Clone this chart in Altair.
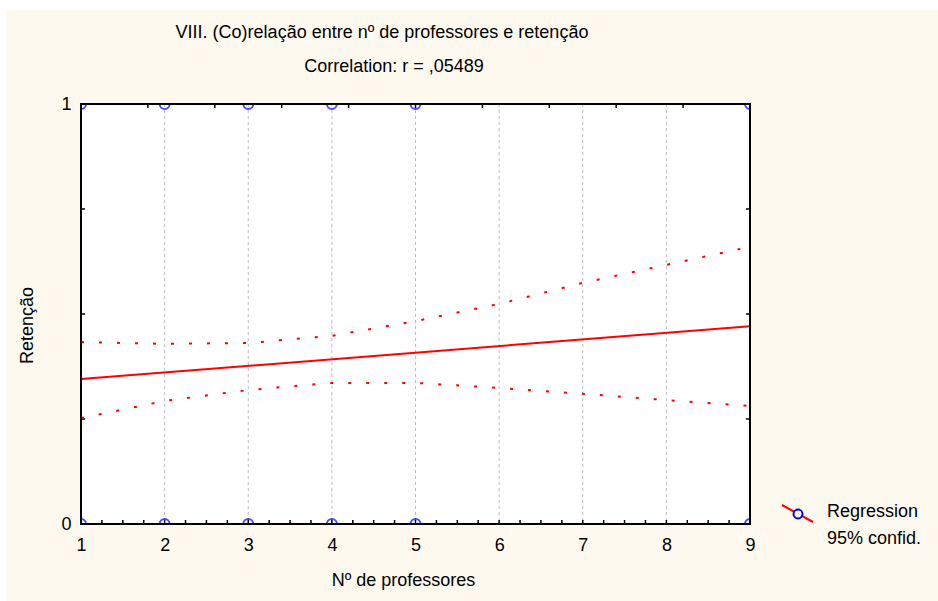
import altair as alt
import pandas as pd

# ---- data ----
pt_x = [1, 2, 3, 4, 5, 9, 1, 2, 3, 4, 5, 9]
pt_y = [1, 1, 1, 1, 1, 1, 0, 0, 0, 0, 0, 0]

reg_x = [1, 9]
reg_y = [0.345, 0.471]

ci_x = [1, 2, 3, 4, 5, 6, 7, 8, 9]
ci_upper = [0.433, 0.429, 0.431, 0.448, 0.483, 0.524, 0.574, 0.617, 0.660]
ci_lower = [0.252, 0.293, 0.319, 0.336, 0.336, 0.324, 0.310, 0.295, 0.281]

x_labels = [1, 2, 3, 4, 5, 6, 7, 8, 9]
x_grid = [2, 3, 4, 5, 6, 7, 8]
y_labels = [0, 1]
x_minor = [1 + 0.25 * i for i in range(1, 32)]
x_top = [1 + 0.8 * i for i in range(1, 10)]
y_minor = [0.25, 0.5, 0.75]

title1 = "VIII. (Co)relação entre nº de professores e retenção"
title2 = "Correlation: r = ,05489"
x_title = "Nº de professores"
y_title = "Retenção"
legend_items = ["Regression", "95% confid."]

W, H = 669, 420
FONT = "Liberation Sans"
FS = 18
CREAM = "#FEF9EF"

pts = pd.DataFrame({"x": pt_x, "y": pt_y})
reg = pd.DataFrame({"x": reg_x, "y": reg_y})
ci = pd.DataFrame({
    "x": ci_x + ci_x,
    "y": ci_upper + ci_lower,
    "band": ["upper"] * len(ci_x) + ["lower"] * len(ci_x),
})

xs = alt.Scale(domain=[1, 9], nice=False, zero=False)
ys = alt.Scale(domain=[0, 1], nice=False, zero=False)

one = pd.DataFrame({"a": [0]})

bg = alt.Chart(one).mark_rect(color=CREAM).encode(
    x=alt.value(-75), x2=alt.value(W + 188), y=alt.value(-94), y2=alt.value(H + 77)
)
white = alt.Chart(one).mark_rect(color="white").encode(
    x=alt.value(0), x2=alt.value(W), y=alt.value(0), y2=alt.value(H)
)

grid = alt.Chart(pd.DataFrame({"x": x_grid})).mark_rule(
    color="#bcbcbc", strokeWidth=1, strokeDash=[3, 3]).encode(
    x=alt.X("x:Q", scale=xs, axis=alt.Axis(
        values=x_labels, title=x_title, ticks=False, domain=False, grid=False, zindex=1,
        labelFont=FONT, labelFontSize=FS, labelColor="black", labelPadding=12,
        labelFlush=False,
        titleFont=FONT, titleFontSize=FS, titleFontWeight="normal", titleColor="black",
        titlePadding=17, titleX=322, format="d")),
    y=alt.value(0), y2=alt.value(H))

yaxis = alt.Chart(pd.DataFrame({"y": y_labels})).mark_point(opacity=0).encode(
    x=alt.value(0),
    y=alt.Y("y:Q", scale=ys, axis=alt.Axis(
        values=y_labels, title=y_title, ticks=False, domain=False, grid=False, zindex=1,
        labelFont=FONT, labelFontSize=FS, labelColor="black", labelPadding=10,
        labelFlush=False,
        titleFont=FONT, titleFontSize=FS, titleFontWeight="normal", titleColor="black",
        titlePadding=24, titleY=221, format="d")),
)

tick_b = alt.Chart(pd.DataFrame({"x": x_minor})).mark_rule(color="black", strokeWidth=1.5).encode(
    x=alt.X("x:Q", scale=xs), y=alt.value(H), y2=alt.value(H - 4))
tick_t = alt.Chart(pd.DataFrame({"x": x_top})).mark_rule(color="black", strokeWidth=1.5).encode(
    x=alt.X("x:Q", scale=xs), y=alt.value(0), y2=alt.value(4))
tick_l = alt.Chart(pd.DataFrame({"y": y_minor})).mark_rule(color="black", strokeWidth=1.5).encode(
    y=alt.Y("y:Q", scale=ys), x=alt.value(0), x2=alt.value(4))
tick_r = alt.Chart(pd.DataFrame({"y": y_minor})).mark_rule(color="black", strokeWidth=1.5).encode(
    y=alt.Y("y:Q", scale=ys), x=alt.value(W), x2=alt.value(W - 4))

ci_lines = alt.Chart(ci).mark_line(color="#FF0000", strokeWidth=2, strokeDash=[3, 15]).encode(
    x=alt.X("x:Q", scale=xs), y=alt.Y("y:Q", scale=ys), detail="band:N")
reg_line = alt.Chart(reg).mark_line(color="#FF0000", strokeWidth=2).encode(
    x=alt.X("x:Q", scale=xs), y=alt.Y("y:Q", scale=ys))
points = alt.Chart(pts).mark_point(shape="circle", filled=False, color="#0000FF",
                                   size=100, strokeWidth=2, clip=True).encode(
    x=alt.X("x:Q", scale=xs), y=alt.Y("y:Q", scale=ys))

border = alt.Chart(one).mark_rect(
    fill=None, stroke="black", strokeWidth=2).encode(
    x=alt.value(0), x2=alt.value(W), y=alt.value(0), y2=alt.value(H))

t1 = alt.Chart(pd.DataFrame({"t": [title1]})).mark_text(
    font=FONT, fontSize=FS, color="black", align="center", baseline="middle").encode(
    text="t:N", x=alt.value(301), y=alt.value(-71))
t2 = alt.Chart(pd.DataFrame({"t": [title2]})).mark_text(
    font=FONT, fontSize=FS, color="black", align="center", baseline="middle").encode(
    text="t:N", x=alt.value(313), y=alt.value(-37))

leg_line = alt.Chart(one).mark_rule(color="#FF0000", strokeWidth=2).encode(
    x=alt.value(701), x2=alt.value(732), y=alt.value(401), y2=alt.value(418))
leg_pt = alt.Chart(one).mark_point(
    shape="circle", filled=True, fill="white", stroke="#0000FF", strokeWidth=2, size=80, opacity=1).encode(
    x=alt.value(717), y=alt.value(410))
leg_t1 = alt.Chart(pd.DataFrame({"t": [legend_items[0]]})).mark_text(
    font=FONT, fontSize=FS, color="black", align="left", baseline="middle").encode(
    text="t:N", x=alt.value(746), y=alt.value(408))
leg_t2 = alt.Chart(pd.DataFrame({"t": [legend_items[1]]})).mark_text(
    font=FONT, fontSize=FS, color="black", align="left", baseline="middle").encode(
    text="t:N", x=alt.value(746), y=alt.value(435))

chart = alt.layer(
    bg, white, grid, yaxis, tick_b, tick_t, tick_l, tick_r,
    ci_lines, reg_line, points, border, t1, t2,
    leg_line, leg_pt, leg_t1, leg_t2,
).properties(
    width=W, height=H,
    autosize=alt.AutoSizeParams(type="none"),
    padding={"left": 81, "top": 104, "right": 188, "bottom": 77},
    background="white",
).configure_view(stroke=None)

chart.save("out.html", embed_options={"renderer": "svg", "actions": False})
